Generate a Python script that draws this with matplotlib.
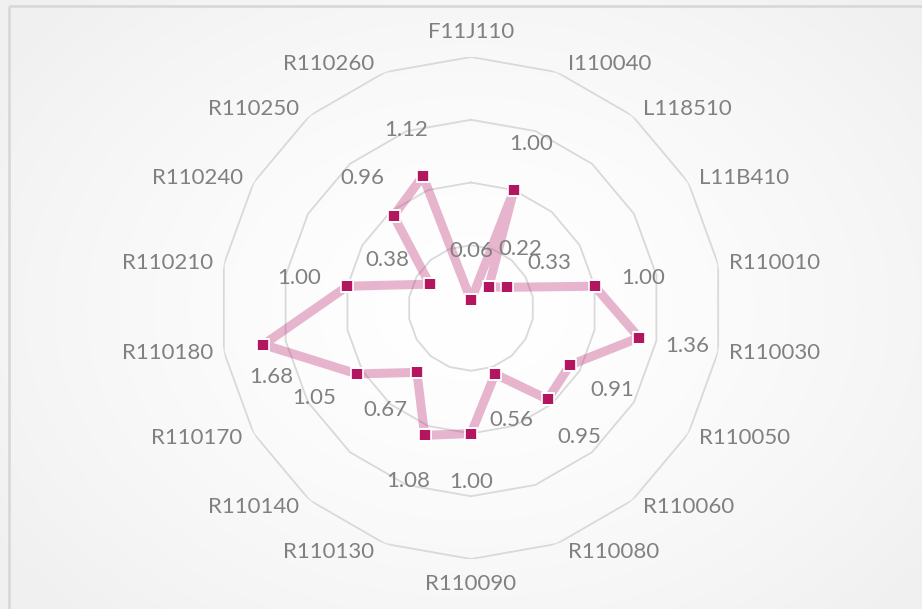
import numpy as np
import matplotlib
matplotlib.use("Agg")
import matplotlib.pyplot as plt
from matplotlib.patches import Rectangle

categorias = ["F11J110", "I110040", "L118510", "L11B410", "R110010", "R110030",
              "R110050", "R110060", "R110080", "R110090", "R110130", "R110140",
              "R110170", "R110180", "R110210", "R110240", "R110250", "R110260"]
valores = [0.06, 1.00, 0.22, 0.33, 1.00, 1.36, 0.91, 0.95, 0.56, 1.00, 1.08,
           0.67, 1.05, 1.68, 1.00, 0.38, 0.96, 1.12]
aneis = [0.5, 1.0, 1.5, 2.0]

plt.rcParams['font.family'] = ['Lato', 'DejaVu Sans']
cinza = '#808080'
tam = 16

W, H = 922, 609
fig = plt.figure(figsize=(W / 100, H / 100), dpi=100)

# fundo com gradiente radial
bg = fig.add_axes([0, 0, 1, 1])
yy, xx = np.mgrid[0:H, 0:W]
d = np.sqrt(((xx - 471) / 560.0) ** 2 + ((yy - 308) / 420.0) ** 2)
tom = 1.0 - 0.055 * np.clip(d, 0, 1) ** 1.5
bg.imshow(np.dstack([tom, tom, tom]), extent=(0, W, H, 0), aspect='auto')
bg.add_patch(Rectangle((8.5, 5.5), W + 10, H + 10, fill=False,
                       edgecolor='#d9d9d9', linewidth=2))
bg.set_xlim(0, W)
bg.set_ylim(H, 0)
bg.axis('off')

# eixo polar
cx, cy, R = 471, 308, 251
ax = fig.add_axes([(cx - R) / W, 1 - (cy + R) / H, 2 * R / W, 2 * R / H],
                  projection='polar')
ax.set_theta_zero_location('N')
ax.set_theta_direction(-1)
ax.set_ylim(0, 2.0)
ax.patch.set_alpha(0)
ax.spines['polar'].set_visible(False)
ax.grid(False)
ax.set_xticks([])
ax.set_yticks([])

n = len(categorias)
ang = np.arange(n) * 2 * np.pi / n
ang_f = np.append(ang, ang[0])

for r in aneis:
    ax.plot(ang_f, [r] * (n + 1), color='#d9d9d9', linewidth=1.3, zorder=1)

vals_f = np.append(valores, valores[0])
ax.plot(ang_f, vals_f, color='#BD3176', alpha=0.35, linewidth=6.5, zorder=2)
ax.plot(ang, valores, linestyle='none', marker='s', markersize=8.5,
        markerfacecolor='#B3155F', markeredgecolor='white',
        markeredgewidth=1.2, zorder=3)

# rótulos das categorias
for a, nome in zip(ang, categorias):
    s, c = np.sin(a), np.cos(a)
    if abs(s) < 0.1:
        ha = 'center'
        off = (0, 25 * c)
    else:
        ha = 'left' if s > 0 else 'right'
        off = (11 * np.sign(s), 9 * c)
    ax.annotate(nome, xy=(a, 2.0), xytext=off, textcoords='offset pixels',
                ha=ha, va='center', fontsize=tam, color=cinza, zorder=4)

# rótulos dos valores (o de R110180 foi deslocado no original)
for i, (a, v) in enumerate(zip(ang, valores)):
    off = (49 * np.sin(a), 49 * np.cos(a))
    if categorias[i] == "R110180":
        off = (8, -32)
    ax.annotate(f"{v:.2f}", xy=(a, v), xytext=off,
                textcoords='offset pixels', ha='center', va='center',
                fontsize=tam, color=cinza, zorder=4)

fig.savefig("out.png", dpi=100)
